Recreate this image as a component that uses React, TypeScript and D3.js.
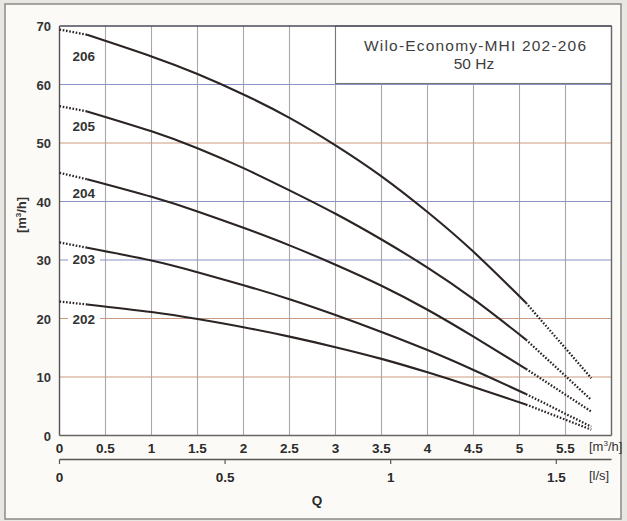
import React from "react";
import * as d3 from "d3";

const W = 627;
const H = 521;

// Shared flow grid for the solid (tested) part of each curve, m³/h
const solidQ = [0.3, 1, 1.5, 2, 2.5, 3, 3.5, 4, 4.5, 5.07];
const seriesNames = ["202", "203", "204", "205", "206"];
const head202 = [22.4, 21.1, 19.9, 18.5, 16.9, 15.1, 13.1, 10.8, 8.3, 5.3];
const head203 = [32.1, 29.9, 27.9, 25.7, 23.3, 20.6, 17.7, 14.6, 11.2, 7.1];
const head204 = [43.8, 40.8, 38.3, 35.5, 32.5, 29.2, 25.6, 21.5, 16.9, 11.4];
const head205 = [55.4, 52.0, 49.1, 45.7, 41.9, 37.9, 33.5, 28.7, 23.3, 16.4];
const head206 = [68.5, 64.8, 61.8, 58.3, 54.3, 49.6, 44.3, 38.2, 31.4, 22.7];
const solidHeads = [head202, head203, head204, head205, head206];
// Dotted extensions: shut-off head at Q=0 and run-out head at Q end
const shutoffHead = [22.9, 33.0, 44.9, 56.3, 69.4];
const runoutQ = 5.78;
const runoutHead = [1.0, 1.5, 4.1, 6.1, 9.8];
// Curve label baselines (head value where label sits)
const labelHead = [19.05, 29.3, 40.6, 52.0, 64.0];

const xTicks = [0, 0.5, 1, 1.5, 2, 2.5, 3, 3.5, 4, 4.5, 5, 5.5];
const yTicks = [0, 10, 20, 30, 40, 50, 60, 70];
const lsTicks = [0, 0.5, 1, 1.5];
const blueLines = [60, 40, 30];
const title = "Wilo-Economy-MHI 202-206";
const subtitle = "50 Hz";

export default function App() {
  const x = d3.scaleLinear().domain([0, 6]).range([59.5, 611.5]);
  const y = d3.scaleLinear().domain([0, 70]).range([435.5, 26]);
  const xl = d3.scaleLinear().domain([0, 6 / 3.6]).range([59.5, 611.5]);

  const line = d3
    .line<[number, number]>()
    .x((d) => x(d[0]))
    .y((d) => y(d[1]))
    .curve(d3.curveNatural);
  const straight = d3
    .line<[number, number]>()
    .x((d) => x(d[0]))
    .y((d) => y(d[1]));

  const font = "'Liberation Sans', Arial, sans-serif";
  const ink = "#2b2422";

  const gridColor = (v: number) => {
    if (v === 70) return "#6a6890";
    if (blueLines.includes(v)) return "#8d92c4";
    return "#c99a84";
  };

  return (
    <svg
      width={W}
      height={H}
      style={{ position: "absolute", left: 0, top: 0 }}
      fontFamily={font}
    >
      <rect x={0} y={0} width={W} height={H} fill="#e9e7e1" />
      <rect x={5} y={4} width={616} height={515} fill="#fbfaf6" stroke="#8a8a88" strokeWidth={1.5} />
      <rect x={x(0)} y={y(70)} width={x(6) - x(0)} height={y(0) - y(70)} fill="#ffffff" />

      {/* vertical grid */}
      {xTicks
        .filter((t) => t > 0)
        .map((t) => (
          <line key={"vx" + t} x1={x(t)} x2={x(t)} y1={y(70)} y2={y(0)} stroke="#aaa6aa" strokeWidth={1.1} />
        ))}
      {/* horizontal grid */}
      {yTicks
        .filter((t) => t > 0 && t < 70)
        .map((t) => (
          <line key={"hy" + t} x1={x(0)} x2={x(6)} y1={y(t)} y2={y(t)} stroke={gridColor(t)} strokeWidth={1.2} />
        ))}

      {/* legend box */}
      <rect x={x(3)} y={y(70)} width={x(6) - x(3)} height={57.5} fill="#ffffff" stroke="#777" strokeWidth={1.1} />
      <text x={475} y={51} textAnchor="middle" fontSize={15.5} fill="#404040" textLength={222} lengthAdjust="spacing">
        {title}
      </text>
      <text x={474} y={68.5} textAnchor="middle" fontSize={15.5} fill="#404040">
        {subtitle}
      </text>

      {/* plot frame */}
      <line x1={x(0)} x2={x(6)} y1={y(70)} y2={y(70)} stroke="#4c4a5a" strokeWidth={1.6} />
      <line x1={x(0)} x2={x(6)} y1={y(0)} y2={y(0)} stroke="#6a6466" strokeWidth={1.4} />
      <line x1={x(0)} x2={x(0)} y1={y(70)} y2={y(0)} stroke="#555" strokeWidth={1.4} />
      <line x1={x(6)} x2={x(6)} y1={y(70)} y2={y(0)} stroke="#666" strokeWidth={1.4} />

      {/* curve labels */}
      {seriesNames.map((n, i) => (
        <g key={"lab" + n}>
          {i < 2 && <rect x={68} y={y(labelHead[i]) - 11} width={32} height={14} fill="#fff" />}
          <text x={72.5} y={y(labelHead[i])} fontSize={13.5} fontWeight="bold" fill="#333">
            {n}
          </text>
        </g>
      ))}

      {/* curves */}
      {seriesNames.map((n, i) => {
        const pts = solidQ.map((q, j) => [q, solidHeads[i][j]] as [number, number]);
        const first = pts[0];
        const last = pts[pts.length - 1];
        return (
          <g key={"c" + n}>
            <path d={line(pts) || ""} fill="none" stroke={ink} strokeWidth={2.1} />
            <path
              d={straight([[0, shutoffHead[i]], first]) || ""}
              fill="none"
              stroke={ink}
              strokeWidth={2.3}
              strokeDasharray="1.6 1.7"
            />
            <path
              d={straight([last, [runoutQ, runoutHead[i]]]) || ""}
              fill="none"
              stroke={ink}
              strokeWidth={2.3}
              strokeDasharray="1.6 1.7"
            />
          </g>
        );
      })}

      {/* y tick labels */}
      {yTicks.map((t) => (
        <text key={"yt" + t} x={51} y={y(t) + 5} textAnchor="end" fontSize={13} fontWeight="bold" fill="#333">
          {t}
        </text>
      ))}
      <text
        transform={`translate(26,215) rotate(-90)`}
        textAnchor="middle"
        fontSize={13}
        fontWeight="bold"
        fill="#333"
      >
        [m<tspan fontSize={8} dy={-5}>3</tspan>
        <tspan dy={5}>/h]</tspan>
      </text>

      {/* x tick labels m³/h */}
      {xTicks.map((t) => (
        <text key={"xt" + t} x={x(t)} y={452.5} textAnchor="middle" fontSize={13.5} fontWeight="bold" fill="#2a2a2a">
          {t}
        </text>
      ))}
      <text x={589} y={450.5} fontSize={13} fill="#333">
        [m<tspan fontSize={8} dy={-5}>3</tspan>
        <tspan dy={5}>/h]</tspan>
      </text>

      {/* l/s axis */}
      <line x1={x(0)} x2={x(6)} y1={459.5} y2={459.5} stroke="#5a5652" strokeWidth={1.6} />
      {lsTicks.map((t) => (
        <g key={"ls" + t}>
          <line x1={xl(t)} x2={xl(t)} y1={459.5} y2={464} stroke="#5a5652" strokeWidth={1.2} />
          <text x={xl(t)} y={481.5} textAnchor="middle" fontSize={13.5} fontWeight="bold" fill="#2a2a2a">
            {t}
          </text>
        </g>
      ))}
      <text x={589} y={480} fontSize={13} fill="#333">
        [l/s]
      </text>
      <text x={317} y={505} textAnchor="middle" fontSize={13.5} fontWeight="bold" fill="#2a2a2a">
        Q
      </text>
    </svg>
  );
}
